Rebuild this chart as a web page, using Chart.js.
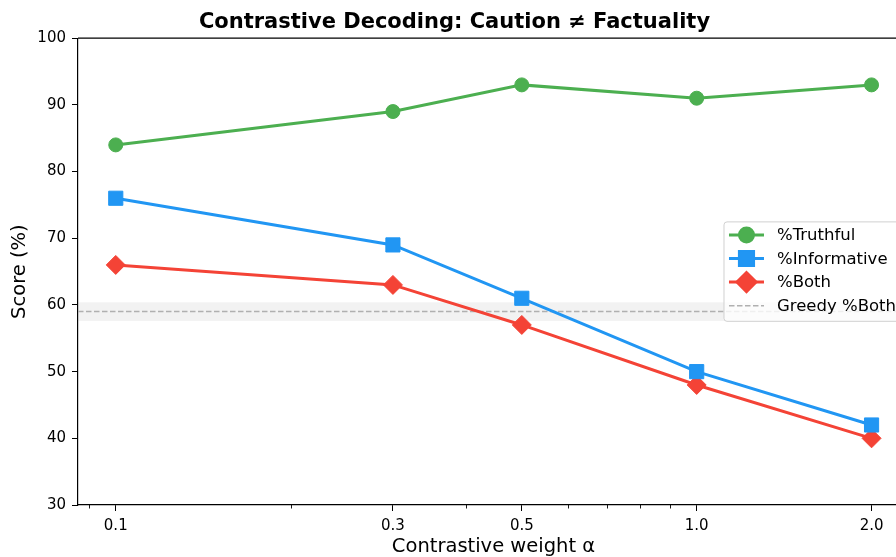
<!DOCTYPE html>
<html>
<head>
<meta charset="utf-8">
<script src="https://cdn.jsdelivr.net/npm/chart.js@4.4.0/dist/chart.umd.min.js"></script>
<style>
  html, body { margin: 0; padding: 0; background: #fff; overflow: hidden; }
  #wrap { width: 930px; height: 557px; position: relative; }
</style>
</head>
<body>
<div id="wrap"><canvas id="chart"></canvas></div>
<script>
// data
const alphas = [0.1, 0.3, 0.5, 1.0, 2.0];
const alphaLabels = ["0.1", "0.3", "0.5", "1.0", "2.0"];
const minorAlphas = [0.09, 0.2, 0.4, 0.6, 0.7, 0.8, 0.9];
const truthful = [84, 89, 93, 91, 93];
const informative = [76, 69, 61, 50, 42];
const both = [66, 63, 57, 48, 40];
const greedyBoth = 59;
const greedyBand = 1.4;

const FONT = "'DejaVu Sans', sans-serif";
Chart.defaults.font.family = FONT;
Chart.defaults.color = "#000";

function series(label, values, color, style, radius) {
  return {
    label: label,
    data: alphas.map((a, i) => ({ x: a, y: values[i] })),
    borderColor: color,
    backgroundColor: color,
    borderWidth: 3,
    pointStyle: style,
    pointRadius: radius,
    pointHoverRadius: radius,
    pointBorderWidth: 1,
    pointBorderColor: color,
    pointBackgroundColor: color,
    tension: 0
  };
}

const datasets = [
  series("%Truthful", truthful, "#4CAF50", "circle", 7),
  series("%Informative", informative, "#2196F3", "rect", 10),
  series("%Both", both, "#F44336", "rectRot", 9.5)
];

const decor = {
  id: "decor",
  beforeDatasetsDraw(chart) {
    const { ctx, chartArea: a, scales: { y } } = chart;
    ctx.save();
    ctx.beginPath();
    ctx.rect(a.left, a.top, a.right - a.left, a.bottom - a.top);
    ctx.clip();
    const y1 = y.getPixelForValue(greedyBoth + greedyBand);
    const y2 = y.getPixelForValue(greedyBoth - greedyBand);
    ctx.fillStyle = "rgba(128,128,128,0.1)";
    ctx.fillRect(a.left, y1, a.right - a.left, y2 - y1);
    const yl = y.getPixelForValue(greedyBoth);
    ctx.strokeStyle = "#b0b0b0";
    ctx.lineWidth = 1.5;
    ctx.setLineDash([5.5, 2.5]);
    ctx.beginPath();
    ctx.moveTo(a.left, yl);
    ctx.lineTo(a.right, yl);
    ctx.stroke();
    ctx.restore();
  },
  afterDraw(chart) {
    const { ctx, chartArea: a, scales: { x } } = chart;
    ctx.save();
    // top / right spines
    ctx.strokeStyle = "#000";
    ctx.lineWidth = 1.2;
    ctx.beginPath();
    ctx.moveTo(a.left, a.top);
    ctx.lineTo(a.right, a.top);
    ctx.lineTo(a.right, a.bottom);
    ctx.stroke();
    // minor ticks on the log axis
    ctx.lineWidth = 0.9;
    minorAlphas.forEach(v => {
      const px = Math.round(x.getPixelForValue(v)) + 0.5;
      ctx.beginPath();
      ctx.moveTo(px, a.bottom);
      ctx.lineTo(px, a.bottom + 3.5);
      ctx.stroke();
    });

    // legend, centre right inside the axes
    const fontSize = 16.5;
    ctx.font = fontSize + "px " + FONT;
    const items = datasets.map(d => ({ label: d.label, color: d.borderColor, style: d.pointStyle, radius: d.pointRadius }));
    items.push({ label: "Greedy %Both", color: "#b0b0b0", dashed: true });
    const maxW = Math.max(...items.map(it => ctx.measureText(it.label).width));
    const rowH = 23.6;
    const boxH = rowH * items.length + 5;
    const boxW = 5 + 35 + 13 + maxW + 8;
    const right = a.right - 5;
    const left = right - boxW;
    const top = (a.top + a.bottom) / 2 - boxH / 2;
    ctx.fillStyle = "rgba(255,255,255,0.8)";
    ctx.strokeStyle = "#d0d0d0";
    ctx.lineWidth = 1;
    ctx.setLineDash([]);
    ctx.beginPath();
    ctx.roundRect(left, top, boxW, boxH, 3);
    ctx.fill();
    ctx.stroke();
    items.forEach((it, i) => {
      const cy = top + 13 + i * rowH;
      const hx0 = left + 5, hx1 = left + 40;
      ctx.strokeStyle = it.color;
      if (it.dashed) {
        ctx.lineWidth = 1.5;
        ctx.setLineDash([5.5, 2.5]);
      } else {
        ctx.lineWidth = 3;
        ctx.setLineDash([]);
      }
      ctx.beginPath();
      ctx.moveTo(hx0, cy);
      ctx.lineTo(hx1, cy);
      ctx.stroke();
      ctx.setLineDash([]);
      if (!it.dashed) {
        ctx.fillStyle = it.color;
        Chart.helpers.drawPoint(ctx, { pointStyle: it.style, radius: it.radius, borderWidth: 1, rotation: 0 }, (hx0 + hx1) / 2, cy);
        ctx.fill();
      }
      ctx.fillStyle = "#000";
      ctx.textBaseline = "middle";
      ctx.textAlign = "left";
      ctx.fillText(it.label, left + 53, cy + 1);
    });
    ctx.restore();
  }
};

new Chart(document.getElementById("chart"), {
  type: "line",
  data: { datasets: datasets },
  options: {
    responsive: true,
    maintainAspectRatio: false,
    animation: false,
    events: [],
    layout: { padding: { left: 0, right: 21, top: 0, bottom: 0 } },
    plugins: {
      legend: { display: false },
      tooltip: { enabled: false },
      title: {
        display: true,
        text: "Contrastive Decoding: Caution ≠ Factuality",
        font: { size: 21, weight: "bold", family: FONT },
        color: "#000",
        padding: { top: 10, bottom: 3 }
      }
    },
    scales: {
      x: {
        type: "logarithmic",
        min: 0.0861,
        max: 2.32,
        afterBuildTicks: s => { s.ticks = alphas.map(v => ({ value: v })); },
        afterFit: s => { s.height = 52; },
        ticks: {
          autoSkip: false,
          maxRotation: 0,
          padding: 6,
          font: { size: 15 },
          color: "#000",
          callback: v => alphaLabels[alphas.indexOf(v)]
        },
        grid: { drawOnChartArea: false, tickLength: 6, tickColor: "#000", tickWidth: 1 },
        border: { display: true, color: "#000", width: 1.2 },
        title: { display: true, text: "Contrastive weight α", font: { size: 19.5, lineHeight: 1.0 }, color: "#000", padding: { top: 0, bottom: 0 } }
      },
      y: {
        type: "linear",
        min: 30,
        max: 100,
        afterFit: s => { s.width = 78; },
        ticks: { stepSize: 10, padding: 6, font: { size: 15 }, color: "#000" },
        grid: { drawOnChartArea: false, tickLength: 6, tickColor: "#000", tickWidth: 1 },
        border: { display: true, color: "#000", width: 1.2 },
        title: { display: true, text: "Score (%)", font: { size: 19.5 }, color: "#000", padding: { top: 8, bottom: 0 } }
      }
    }
  },
  plugins: [decor]
});
</script>
</body>
</html>
